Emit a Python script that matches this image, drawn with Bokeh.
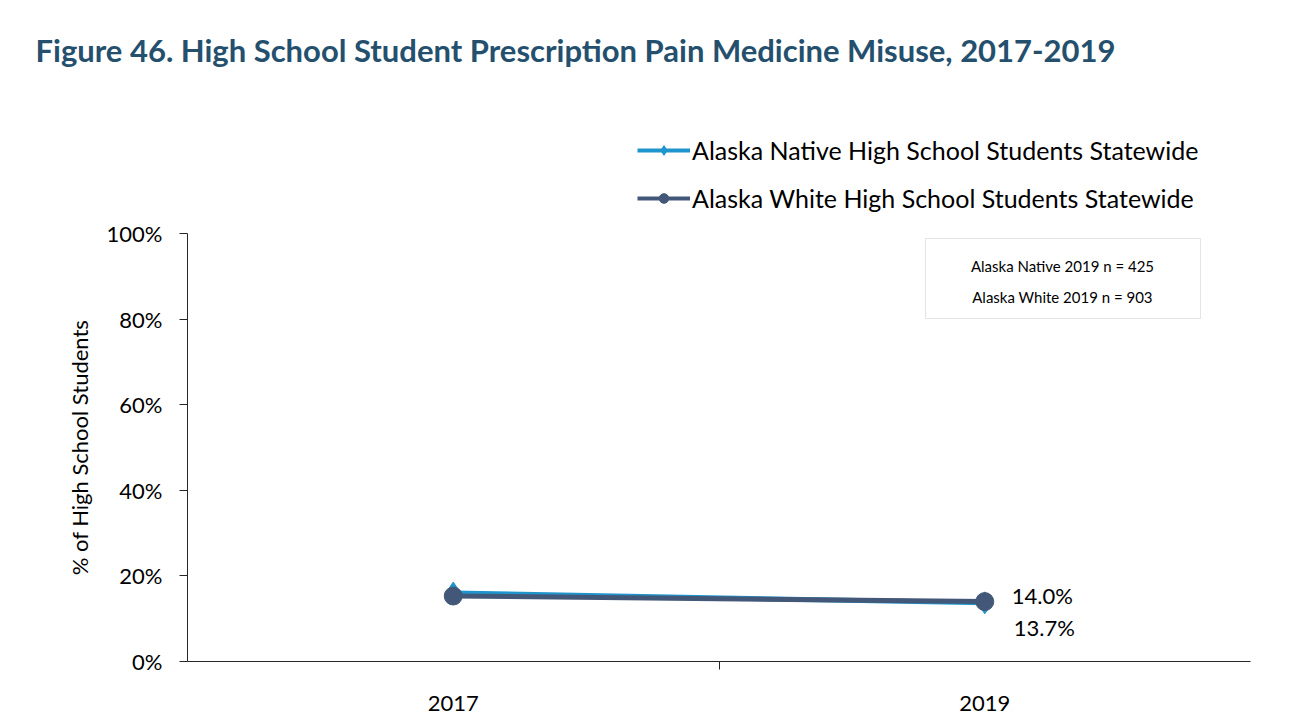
from bokeh.plotting import figure
from bokeh.layouts import column
from bokeh.models import (Range1d, FixedTicker, PrintfTickFormatter, Legend, LegendItem,
                          Label, BoxAnnotation, ColumnDataSource)
from bokeh.embed import file_html
from bokeh.resources import INLINE

# ---- data ----
years = ["2017", "2019"]
native = [16.0, 13.7]
white = [15.3, 14.0]
series_names = ["Alaska Native High School Students Statewide",
                "Alaska White High School Students Statewide"]
y_ticks = [0, 20, 40, 60, 80, 100]
note_lines = ["Alaska Native 2019 n = 425", "Alaska White 2019 n = 903"]
title_text = "Figure 46. High School Student Prescription Pain Medicine Misuse, 2017-2019"

NATIVE_C = "#1F95CC"
WHITE_C = "#435878"
TXT_FONT = "Lato"
AX_C = "#262626"

W = 1300
TOP_H = 219
MAIN_H = 508

xs = [i + 0.5 for i in range(len(years))]

# ---------- header figure: title + legend ----------
top = figure(width=W, height=TOP_H, output_backend="svg", toolbar_location=None,
             x_range=Range1d(0, 1), y_range=Range1d(0, 1),
             min_border=0, min_border_left=0, min_border_right=0,
             min_border_top=0, min_border_bottom=0)
top.frame_align = False
top.axis.visible = False
top.grid.visible = False
top.outline_line_color = None
top.border_fill_color = "white"
top.background_fill_color = "white"

nan = float("nan")
dummy = ColumnDataSource(dict(x=[nan], y=[nan]))
d_ln = top.line("x", "y", source=dummy, line_color=NATIVE_C, line_width=4)
d_sn = top.scatter("x", "y", source=dummy, marker="diamond", size=18,
                   fill_color=NATIVE_C, line_color=NATIVE_C)
d_lw = top.line("x", "y", source=dummy, line_color=WHITE_C, line_width=4)
d_sw = top.scatter("x", "y", source=dummy, marker="circle", size=15,
                   fill_color=WHITE_C, line_color=WHITE_C)

legend = Legend(items=[LegendItem(label=series_names[0], renderers=[d_ln, d_sn]),
                       LegendItem(label=series_names[1], renderers=[d_lw, d_sw])],
                location=(637, TOP_H - 213), orientation="vertical",
                glyph_width=53, glyph_height=24, label_standoff=2, spacing=18,
                padding=0, margin=0, border_line_color=None,
                background_fill_alpha=0,
                label_text_font=TXT_FONT, label_text_font_size="25px",
                label_text_color="black", label_height=24)
top.add_layout(legend, "center")

top.add_layout(Label(x=35, y=TOP_H - 49, x_units="screen", y_units="screen",
                     text=title_text, text_font=TXT_FONT, text_font_style="bold",
                     text_font_size="31px", text_color="#24506E",
                     text_baseline="alphabetic"))

# ---------- main chart ----------
p = figure(width=W, height=MAIN_H, output_backend="svg", toolbar_location=None,
           x_range=Range1d(0, len(years)), y_range=Range1d(0, 100),
           min_border_left=187, min_border_right=W - 1250,
           min_border_top=233 - TOP_H, min_border_bottom=TOP_H + MAIN_H - 661)
p.grid.visible = False
p.outline_line_color = None
p.background_fill_color = "white"
p.border_fill_color = "white"

p.xaxis.ticker = FixedTicker(ticks=xs, minor_ticks=[i for i in range(1, len(years))])
p.xaxis.major_label_overrides = {x: y for x, y in zip(xs, years)}
p.xaxis.major_tick_line_color = None
p.xaxis.minor_tick_in = 0
p.xaxis.minor_tick_out = 8
p.xaxis.minor_tick_line_color = AX_C
p.xaxis.axis_line_color = AX_C
p.xaxis.major_label_text_font = TXT_FONT
p.xaxis.major_label_text_font_size = "22px"
p.xaxis.major_label_text_color = "black"
p.xaxis.major_label_standoff = 26

p.yaxis.ticker = FixedTicker(ticks=y_ticks, minor_ticks=[])
p.yaxis.formatter = PrintfTickFormatter(format="%d%%")
p.yaxis.major_tick_in = 0
p.yaxis.major_tick_out = 8
p.yaxis.major_tick_line_color = AX_C
p.yaxis.axis_line_color = AX_C
p.yaxis.major_label_text_font = TXT_FONT
p.yaxis.major_label_text_font_size = "22px"
p.yaxis.major_label_text_color = "black"
p.yaxis.major_label_standoff = 17
p.yaxis.axis_label = "% of High School Students"
p.yaxis.axis_label_text_font = TXT_FONT
p.yaxis.axis_label_text_font_style = "normal"
p.yaxis.axis_label_text_font_size = "22px"
p.yaxis.axis_label_text_color = "black"
p.yaxis.axis_label_standoff = 11

src_n = ColumnDataSource(dict(x=xs, y=native))
src_w = ColumnDataSource(dict(x=xs, y=white))

p.line("x", "y", source=src_n, line_color=NATIVE_C, line_width=5)
p.scatter("x", "y", source=src_n, marker="diamond", size=22,
          fill_color=NATIVE_C, line_color=NATIVE_C)
p.line("x", "y", source=src_w, line_color=WHITE_C, line_width=5)
p.scatter("x", "y", source=src_w, marker="circle", size=18,
          fill_color=WHITE_C, line_color=WHITE_C)

last = len(years) - 1
p.add_layout(Label(x=xs[last], y=white[last], text=f"{white[last]:.1f}%",
                   x_offset=27, y_offset=6, text_font=TXT_FONT, text_font_size="22px",
                   text_baseline="middle", text_color="black"))
p.add_layout(Label(x=xs[last], y=native[last], text=f"{native[last]:.1f}%",
                   x_offset=29, y_offset=-25, text_font=TXT_FONT, text_font_size="22px",
                   text_baseline="middle", text_color="black"))

# note box (screen units relative to plot frame)
p.add_layout(BoxAnnotation(left=925 - 187, right=1200 - 187, top=661 - 238, bottom=661 - 318,
                           left_units="screen", right_units="screen",
                           top_units="screen", bottom_units="screen",
                           fill_color="white", fill_alpha=1,
                           line_color="#A6A6A6", line_width=1))
for i, t in enumerate(note_lines):
    p.add_layout(Label(x=1062 - 187, y=661 - 265 - 31 * i, x_units="screen", y_units="screen",
                       text=t, text_font=TXT_FONT, text_font_size="15px",
                       text_align="center", text_baseline="middle", text_color="black"))

layout = column(top, p, spacing=0)
open("out.html", "w").write(file_html(layout, INLINE))
